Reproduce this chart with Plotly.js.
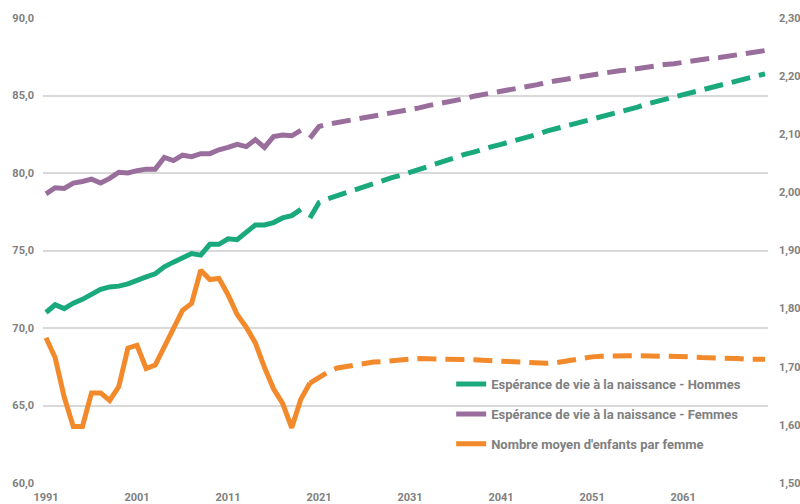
<!DOCTYPE html>
<html>
<head>
<meta charset="utf-8">
<script src="https://cdn.plot.ly/plotly-3.0.1.min.js"></script>
<style>html,body{margin:0;padding:0;background:#fff;}#chart{width:800px;height:504px;}</style>
</head>
<body>
<div id="chart"></div>
<script>
// Years
const histYears = [1991,1992,1993,1994,1995,1996,1997,1998,1999,2000,2001,2002,2003,2004,2005,2006,2007,2008,2009,2010,2011,2012,2013,2014,2015,2016,2017,2018,2019];
const histYearsFert = [1991,1992,1993,1994,1995,1996,1997,1998,1999,2000,2001,2002,2003,2004,2005,2006,2007,2008,2009,2010,2011,2012,2013,2014,2015,2016,2017,2018,2019,2020];
const projYears = [2020,2021,2022,2023,2024,2025,2026,2027,2028,2029,2030,2031,2032,2033,2034,2035,2036,2037,2038,2039,2040,2041,2042,2043,2044,2045,2046,2047,2048,2049,2050,2051,2052,2053,2054,2055,2056,2057,2058,2059,2060,2061,2062,2063,2064,2065,2066,2067,2068,2069,2070];

// Espérance de vie - Hommes
const hommesHist = [71.0,71.5,71.25,71.6,71.85,72.2,72.5,72.65,72.7,72.85,73.1,73.3,73.5,73.95,74.25,74.55,74.8,74.7,75.4,75.4,75.75,75.7,76.15,76.65,76.65,76.8,77.1,77.25,77.65];
const hommesProj = [77.1,78.1,78.35,78.55,78.75,78.95,79.15,79.35,79.55,79.7,79.85,80.05,80.25,80.45,80.65,80.85,81.0,81.2,81.35,81.55,81.7,81.85,82.0,82.2,82.35,82.5,82.7,82.85,83.0,83.15,83.3,83.45,83.6,83.8,83.95,84.1,84.25,84.45,84.6,84.75,84.9,85.05,85.2,85.35,85.5,85.65,85.8,85.95,86.1,86.25,86.4];

// Espérance de vie - Femmes
const femmesHist = [78.65,79.05,79.0,79.35,79.45,79.6,79.35,79.65,80.05,80.0,80.15,80.25,80.25,81.0,80.8,81.15,81.05,81.25,81.25,81.5,81.65,81.85,81.7,82.15,81.65,82.35,82.45,82.4,82.75];
const femmesProj = [82.25,83.0,83.15,83.25,83.35,83.45,83.55,83.65,83.75,83.85,83.95,84.1,84.2,84.35,84.45,84.6,84.7,84.8,84.95,85.05,85.15,85.25,85.35,85.5,85.6,85.7,85.85,85.95,86.05,86.15,86.25,86.35,86.4,86.5,86.6,86.65,86.75,86.85,86.9,87.0,87.05,87.15,87.25,87.3,87.4,87.45,87.55,87.65,87.7,87.8,87.9];

// Nombre moyen d'enfants par femme
const fertHist = [1.750,1.716,1.648,1.597,1.597,1.655,1.655,1.642,1.666,1.732,1.737,1.697,1.703,1.734,1.762,1.797,1.809,1.866,1.850,1.852,1.824,1.790,1.768,1.741,1.699,1.662,1.637,1.595,1.644,1.672];
const fertProj = [1.672,1.682,1.691,1.698,1.701,1.703,1.706,1.708,1.709,1.711,1.713,1.713,1.714,1.714,1.714,1.713,1.713,1.712,1.712,1.711,1.710,1.709,1.708,1.707,1.706,1.706,1.706,1.707,1.710,1.712,1.715,1.717,1.718,1.719,1.719,1.719,1.719,1.719,1.719,1.719,1.718,1.717,1.717,1.716,1.716,1.715,1.714,1.714,1.713,1.713,1.713];

const names = ["Espérance de vie à la naissance - Hommes","Espérance de vie à la naissance - Femmes","Nombre moyen d'enfants par femme"];
const xTicks = [1991,2001,2011,2021,2031,2041,2051,2061];
const yLeftTicks = [60,65,70,75,80,85,90];
const yRightTicks = [1.5,1.6,1.7,1.8,1.9,2.0,2.1,2.2,2.3];

const cGreen = "#1aa97c", cPurple = "#9a6e9c", cOrange = "#f2892a";
const W = 5, DASH = "19px,9px";
const FONT = "Liberation Sans Narrow, Arial Narrow, Roboto, sans-serif";
const TXT = "#808080";

const traces = [
  {x: histYears, y: hommesHist, name: names[0], legendgroup: "g1", mode: "lines", line: {color: cGreen, width: W}, hoverinfo: "skip"},
  {x: projYears, y: hommesProj, name: names[0], legendgroup: "g1", showlegend: false, mode: "lines", line: {color: cGreen, width: W, dash: DASH}, hoverinfo: "skip"},
  {x: histYears, y: femmesHist, name: names[1], legendgroup: "g2", mode: "lines", line: {color: cPurple, width: W}, hoverinfo: "skip"},
  {x: projYears, y: femmesProj, name: names[1], legendgroup: "g2", showlegend: false, mode: "lines", line: {color: cPurple, width: W, dash: DASH}, hoverinfo: "skip"},
  {x: histYearsFert, y: fertHist, name: names[2], legendgroup: "g3", yaxis: "y2", mode: "lines", line: {color: cOrange, width: W}, hoverinfo: "skip"},
  {x: projYears, y: fertProj, name: names[2], legendgroup: "g3", yaxis: "y2", showlegend: false, mode: "lines", line: {color: cOrange, width: W, dash: DASH}, hoverinfo: "skip"}
];

const layout = {
  width: 800, height: 504,
  margin: {l: 43, r: 32, t: 18, b: 21, pad: 0},
  paper_bgcolor: "#ffffff", plot_bgcolor: "#ffffff",
  separators: ", ",
  font: {family: FONT, color: TXT, size: 11, weight: 700},
  showlegend: true,
  legend: {
    x: 0.563, xanchor: "left", y: 0.245, yanchor: "top",
    bgcolor: "rgba(255,255,255,0)", borderwidth: 0,
    traceorder: "grouped", tracegroupgap: 10,
    font: {family: FONT, size: 13, color: TXT, weight: 700}
  },
  xaxis: {
    range: [1990.67, 2070.33], tickvals: xTicks, ticktext: xTicks.map(String),
    showgrid: false, zeroline: false, showline: false, ticks: "",
    ticklabelstandoff: 6,
    tickfont: {family: FONT, size: 11, color: TXT, weight: 700}
  },
  yaxis: {
    range: [60, 90], tickvals: yLeftTicks, tickformat: ".1f",
    showgrid: true, gridcolor: "#d9d9d9", gridwidth: 2, zeroline: false, showline: false, ticks: "",
    ticklabelstandoff: 8,
    tickfont: {family: FONT, size: 11, color: TXT, weight: 700}
  },
  yaxis2: {
    range: [1.5, 2.3], tickvals: yRightTicks, tickformat: ".2f",
    overlaying: "y", side: "right", showgrid: false, zeroline: false, showline: false, ticks: "",
    ticklabelstandoff: 10,
    tickfont: {family: FONT, size: 11, color: TXT, weight: 700}
  },
  shapes: [
    {type: "rect", xref: "paper", yref: "paper", x0: 0.483, x1: 0.986, y0: 0.09, y1: 0.235,
     fillcolor: "#ffffff", line: {width: 0}, layer: "between"}
  ]
};

Plotly.newPlot("chart", traces, layout, {staticPlot: true, displayModeBar: false});
</script>
</body>
</html>
